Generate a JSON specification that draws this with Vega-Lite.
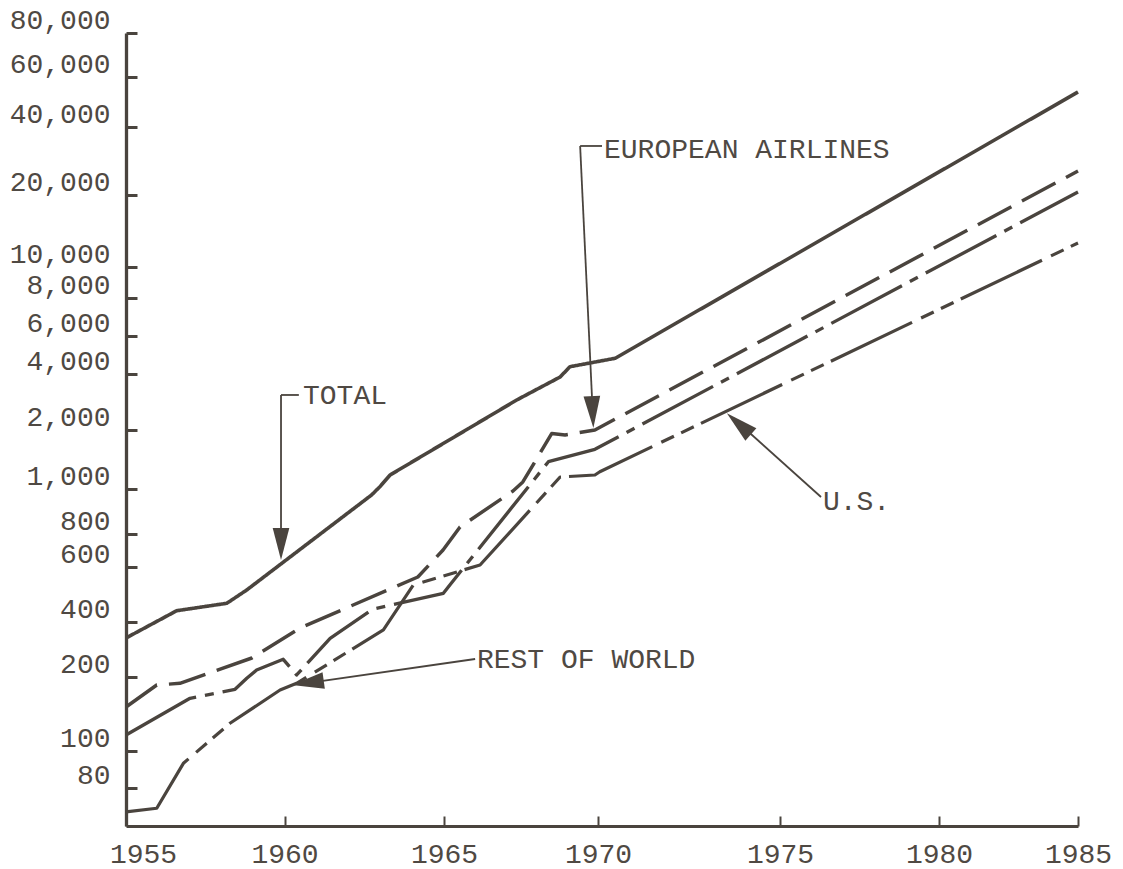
{
  "$schema": "https://vega.github.io/schema/vega-lite/v6.json",
  "width": 952,
  "height": 793,
  "autosize": {"type": "none"},
  "padding": {"left": 126, "top": 33, "right": 45, "bottom": 43},
  "background": "white",
  "config": {"view": {"stroke": null}, "font": "Liberation Mono"},
  "datasets": {
    "traffic": [
      {"series": "TOTAL", "year": 1955, "value": 327.5},
      {"series": "TOTAL", "year": 1956.6, "value": 435.5},
      {"series": "TOTAL", "year": 1958.18, "value": 459.8},
      {"series": "TOTAL", "year": 1958.81, "value": 507},
      {"series": "TOTAL", "year": 1962.73, "value": 970.7},
      {"series": "TOTAL", "year": 1962.99, "value": 1027},
      {"series": "TOTAL", "year": 1963.31, "value": 1179},
      {"series": "TOTAL", "year": 1967.36, "value": 2899},
      {"series": "TOTAL", "year": 1968.77, "value": 3854},
      {"series": "TOTAL", "year": 1969.09, "value": 4324},
      {"series": "TOTAL", "year": 1970.47, "value": 4730},
      {"series": "TOTAL", "year": 1985, "value": 53010},

      {"series": "EUROPEAN AIRLINES", "year": 1955, "value": 150.8},
      {"series": "EUROPEAN AIRLINES", "year": 1955.97, "value": 185.1},
      {"series": "EUROPEAN AIRLINES", "year": 1956.7, "value": 188},
      {"series": "EUROPEAN AIRLINES", "year": 1958.97, "value": 253.8},
      {"series": "EUROPEAN AIRLINES", "year": 1960.49, "value": 372},
      {"series": "EUROPEAN AIRLINES", "year": 1964.18, "value": 557.6},
      {"series": "EUROPEAN AIRLINES", "year": 1964.97, "value": 695},
      {"series": "EUROPEAN AIRLINES", "year": 1965.52, "value": 827.3},
      {"series": "EUROPEAN AIRLINES", "year": 1967.24, "value": 990},
      {"series": "EUROPEAN AIRLINES", "year": 1967.56, "value": 1086},
      {"series": "EUROPEAN AIRLINES", "year": 1968.5, "value": 1920},
      {"series": "EUROPEAN AIRLINES", "year": 1968.93, "value": 1886},
      {"series": "EUROPEAN AIRLINES", "year": 1969.9, "value": 2000},
      {"series": "EUROPEAN AIRLINES", "year": 1985, "value": 25520},

      {"series": "REST OF WORLD", "year": 1955, "value": 116.1},
      {"series": "REST OF WORLD", "year": 1957.02, "value": 163.5},
      {"series": "REST OF WORLD", "year": 1958.44, "value": 177.8},
      {"series": "REST OF WORLD", "year": 1958.81, "value": 197},
      {"series": "REST OF WORLD", "year": 1959.12, "value": 217.8},
      {"series": "REST OF WORLD", "year": 1959.96, "value": 249.6},
      {"series": "REST OF WORLD", "year": 1960.38, "value": 204.4},
      {"series": "REST OF WORLD", "year": 1961.43, "value": 326.2},
      {"series": "REST OF WORLD", "year": 1962.76, "value": 440},
      {"series": "REST OF WORLD", "year": 1964.98, "value": 494.8},
      {"series": "REST OF WORLD", "year": 1965.19, "value": 526},
      {"series": "REST OF WORLD", "year": 1968.39, "value": 1378},
      {"series": "REST OF WORLD", "year": 1969.9, "value": 1594},
      {"series": "REST OF WORLD", "year": 1985, "value": 20620},

      {"series": "U.S.", "year": 1955, "value": 66.8},
      {"series": "U.S.", "year": 1955.97, "value": 68.7},
      {"series": "U.S.", "year": 1956.81, "value": 92.9},
      {"series": "U.S.", "year": 1958.28, "value": 129.5},
      {"series": "U.S.", "year": 1959.86, "value": 176.6},
      {"series": "U.S.", "year": 1960.38, "value": 188.1},
      {"series": "U.S.", "year": 1963.1, "value": 362.7},
      {"series": "U.S.", "year": 1964.04, "value": 526},
      {"series": "U.S.", "year": 1966.17, "value": 610.5},
      {"series": "U.S.", "year": 1968.77, "value": 1151},
      {"series": "U.S.", "year": 1969.9, "value": 1179},
      {"series": "U.S.", "year": 1970.05, "value": 1225},
      {"series": "U.S.", "year": 1985, "value": 12580}
    ],
    "leaders": [
      {"note": "TOTAL", "year": 1959.89, "value": 3085, "year2": 1960.45, "value2": 3085},
      {"note": "TOTAL", "year": 1959.89, "value": 3085, "year2": 1959.89, "value2": 757.7},
      {"note": "EUROPEAN AIRLINES", "year": 1969.42, "value": 32890, "year2": 1970.11, "value2": 32890},
      {"note": "EUROPEAN AIRLINES", "year": 1969.42, "value": 32890, "year2": 1969.84, "value2": 2263},
      {"note": "REST OF WORLD", "year": 1966.01, "value": 250.6, "year2": 1960.49, "value2": 186.8},
      {"note": "U.S.", "year": 1976.29, "value": 960.9, "year2": 1973.71, "value2": 2320}
    ],
    "heads": [
      {"note": "TOTAL", "year": 1959.89, "value": 637.5, "heading": 180},
      {"note": "EUROPEAN AIRLINES", "year": 1969.85, "value": 2050, "heading": 177.3},
      {"note": "REST OF WORLD", "year": 1960.235, "value": 185.1, "heading": 262},
      {"note": "U.S.", "year": 1973.54, "value": 2459, "heading": 311.4}
    ],
    "labels": [
      {"note": "TOTAL", "year": 1960.58, "value": 2759},
      {"note": "EUROPEAN AIRLINES", "year": 1970.165, "value": 29020},
      {"note": "REST OF WORLD", "year": 1966.07, "value": 222.6},
      {"note": "U.S.", "year": 1976.35, "value": 900.6}
    ]
  },
  "encoding": {
    "x": {
      "field": "year",
      "type": "quantitative",
      "scale": {
        "type": "linear",
        "domain": [1955, 1960, 1965, 1970, 1975, 1980, 1985],
        "range": [0, 158.5, 318, 472, 654, 813, 952],
        "nice": false,
        "zero": false
      },
      "axis": {
        "title": null,
        "grid": false,
        "values": [1955, 1960, 1965, 1970, 1975, 1980, 1985],
        "format": "d",
        "domainColor": "#4a443e",
        "domainWidth": 3,
        "tickColor": "#4a443e",
        "tickWidth": 2,
        "tickSize": -10,
        "labelPadding": 24,
        "labelFont": "Liberation Mono",
        "labelFontSize": 28,
        "labelColor": "#4f4943",
        "labelFlush": false,
        "labelOverlap": false,
        "labelBound": false,
        "labelOffset": {"condition": {"test": "datum.value === 1955", "value": 17}, "value": 0}
      }
    },
    "y": {
      "field": "value",
      "type": "quantitative",
      "scale": {
        "type": "log",
        "domain": [60, 80, 100, 200, 400, 600, 800, 1000, 2000, 4000, 6000, 8000, 10000, 20000, 40000, 60000, 80000],
        "range": [793, 755.3, 718, 643.7, 589.3, 534, 500.7, 456, 397, 341, 303, 265.3, 233.7, 162, 93.7, 43.7, 0],
        "nice": false,
        "zero": false
      },
      "axis": {
        "title": null,
        "grid": false,
        "values": [80, 100, 200, 400, 600, 800, 1000, 2000, 4000, 6000, 8000, 10000, 20000, 40000, 60000, 80000],
        "format": ",",
        "domainColor": "#4a443e",
        "domainWidth": 3.3,
        "tickColor": "#4a443e",
        "tickWidth": 3,
        "tickSize": -11,
        "labelPadding": 27,
        "labelOffset": -12.5,
        "labelFont": "Liberation Mono",
        "labelFontSize": 28,
        "labelColor": "#4f4943",
        "labelOverlap": false,
        "labelBound": false,
        "labelFlush": false
      }
    }
  },
  "layer": [
    {
      "data": {"name": "traffic"},
      "mark": {"type": "line", "color": "#4a443e", "strokeCap": "butt", "strokeJoin": "round"},
      "encoding": {
        "detail": {"field": "series", "type": "nominal"},
        "strokeDash": {
          "field": "series",
          "type": "nominal",
          "legend": null,
          "scale": {
            "domain": ["TOTAL", "EUROPEAN AIRLINES", "REST OF WORLD", "U.S."],
            "range": [[1, 0], [38, 12], [80, 9, 9, 9], [90, 10, 14, 8, 14, 8]]
          }
        },
        "strokeWidth": {
          "field": "series",
          "type": "nominal",
          "legend": null,
          "scale": {
            "domain": ["TOTAL", "EUROPEAN AIRLINES", "REST OF WORLD", "U.S."],
            "range": [3.6, 3.2, 3.2, 3.2]
          }
        }
      }
    },
    {
      "data": {"name": "leaders"},
      "mark": {"type": "rule", "color": "#4a443e", "strokeWidth": 1.8},
      "encoding": {
        "x2": {"field": "year2"},
        "y2": {"field": "value2"}
      }
    },
    {
      "data": {"name": "heads"},
      "mark": {
        "type": "point",
        "shape": "M0,0L0.26,1L-0.26,1Z",
        "filled": true,
        "opacity": 1,
        "color": "#4a443e",
        "size": 4096,
        "strokeWidth": 0
      },
      "encoding": {
        "angle": {"field": "heading", "type": "quantitative", "scale": null}
      }
    },
    {
      "data": {"name": "labels"},
      "mark": {
        "type": "text",
        "align": "left",
        "baseline": "alphabetic",
        "font": "Liberation Mono",
        "fontSize": 28,
        "color": "#4f4943"
      },
      "encoding": {
        "text": {"field": "note", "type": "nominal"}
      }
    }
  ]
}
